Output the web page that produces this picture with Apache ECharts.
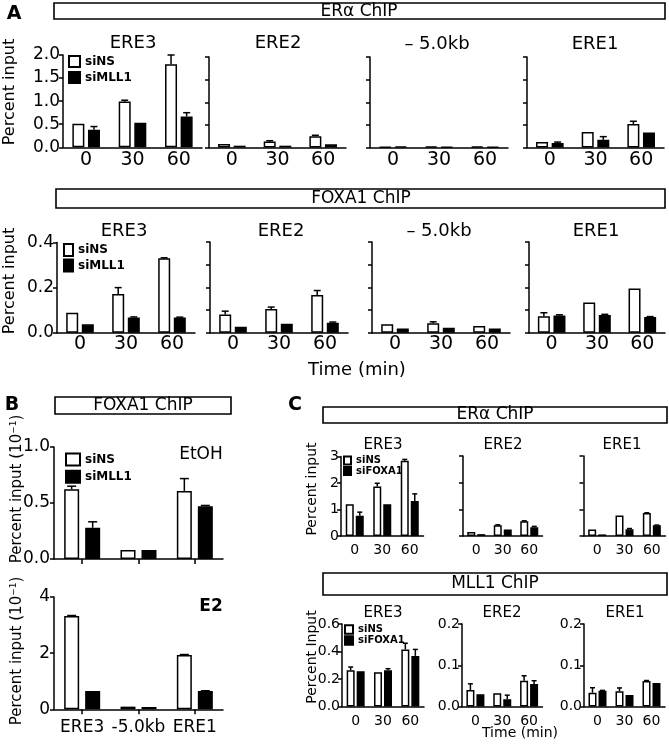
<!DOCTYPE html>
<html><head><meta charset="utf-8">
<script src="https://cdn.jsdelivr.net/npm/echarts@6/dist/echarts.min.js"></script>
<style>html,body{margin:0;padding:0;background:#fff}#c{width:669px;height:751px}</style>
</head><body><div id="c"></div>
<script>
const FONT = 'DejaVu Sans';
const timePoints = ['0', '30', '60'];
const sites = ['ERE3', '-5.0kb', 'ERE1'];

// Panel A - ERα ChIP (siNS / siMLL1)
const aEraEre3NS = [0.51, 0.99, 1.80];
const aEraEre3NSErr = [0, 0.03, 0.20];
const aEraEre3KD = [0.38, 0.53, 0.67];
const aEraEre3KDErr = [0.07, 0, 0.08];
const aEraEre2NS = [0.08, 0.13, 0.25];
const aEraEre2NSErr = [0, 0.02, 0.02];
const aEraEre2KD = [0.04, 0.04, 0.07];
const aEraEre2KDErr = [0, 0, 0];
const aEra5kbNS = [0.015, 0.02, 0.02];
const aEra5kbNSErr = [0, 0, 0];
const aEra5kbKD = [0.02, 0.015, 0.015];
const aEra5kbKDErr = [0, 0, 0];
const aEraEre1NS = [0.12, 0.34, 0.52];
const aEraEre1NSErr = [0, 0, 0.06];
const aEraEre1KD = [0.10, 0.17, 0.33];
const aEraEre1KDErr = [0.02, 0.07, 0];

// Panel A - FOXA1 ChIP (siNS / siMLL1)
const aFoxEre3NS = [0.089, 0.172, 0.33];
const aFoxEre3NSErr = [0, 0.028, 0.002];
const aFoxEre3KD = [0.037, 0.067, 0.067];
const aFoxEre3KDErr = [0, 0.003, 0.002];
const aFoxEre2NS = [0.08, 0.105, 0.166];
const aFoxEre2NSErr = [0.015, 0.008, 0.02];
const aFoxEre2KD = [0.026, 0.04, 0.044];
const aFoxEre2KDErr = [0, 0, 0.003];
const aFox5kbNS = [0.037, 0.042, 0.029];
const aFox5kbNSErr = [0, 0.006, 0];
const aFox5kbKD = [0.019, 0.022, 0.019];
const aFox5kbKDErr = [0, 0, 0];
const aFoxEre1NS = [0.072, 0.133, 0.195];
const aFoxEre1NSErr = [0.016, 0, 0];
const aFoxEre1KD = [0.076, 0.078, 0.069];
const aFoxEre1KDErr = [0.003, 0.003, 0.002];

// Panel B - FOXA1 ChIP (units of 10^-1)
const bEtohNS = [0.623, 0.08, 0.608];
const bEtohNSErr = [0.027, 0, 0.11];
const bEtohKD = [0.279, 0.08, 0.472];
const bEtohKDErr = [0.053, 0, 0.006];
const bE2NS = [3.32, 0.095, 1.93];
const bE2NSErr = [0.02, 0, 0.02];
const bE2KD = [0.65, 0.083, 0.65];
const bE2KDErr = [0, 0, 0.01];

// Panel C - ERα ChIP (siNS / siFOXA1)
const cEraEre3NS = [1.2, 1.87, 2.84];
const cEraEre3NSErr = [0, 0.12, 0.05];
const cEraEre3KD = [0.76, 1.2, 1.32];
const cEraEre3KDErr = [0.14, 0, 0.27];
const cEraEre2NS = [0.15, 0.4, 0.55];
const cEraEre2NSErr = [0, 0.02, 0.02];
const cEraEre2KD = [0.07, 0.24, 0.33];
const cEraEre2KDErr = [0, 0, 0.03];
const cEraEre1NS = [0.24, 0.77, 0.86];
const cEraEre1NSErr = [0, 0, 0.01];
const cEraEre1KD = [0.06, 0.25, 0.40];
const cEraEre1KDErr = [0, 0.03, 0.01];

// Panel C - MLL1 ChIP (siNS / siFOXA1)
const cMllEre3NS = [0.263, 0.25, 0.415];
const cMllEre3NSErr = [0.024, 0, 0.045];
const cMllEre3KD = [0.257, 0.263, 0.368];
const cMllEre3KDErr = [0, 0.012, 0.047];
const cMllEre2NS = [0.04, 0.032, 0.0625];
const cMllEre2NSErr = [0.015, 0, 0.012];
const cMllEre2KD = [0.03, 0.0175, 0.0545];
const cMllEre2KDErr = [0, 0.01, 0.008];
const cMllEre1NS = [0.0335, 0.037, 0.062];
const cMllEre1NSErr = [0.012, 0.008, 0.001];
const cMllEre1KD = [0.038, 0.028, 0.057];
const cMllEre1KDErr = [0.001, 0, 0];

// ---------- layout / style ----------
const sA = {bw: 12, gap: 0.3, cap: 7, yFont: 17, xFont: 19, xMargin: 3, yMargin: 3};
const sA2 = {bw: 12, gap: 0.3, cap: 7, yFont: 17, xFont: 19, xMargin: 2, yMargin: 3};
const sB = {bw: 15, gap: 0.4, cap: 9, yFont: 17, xFont: 17, xMargin: 10, yMargin: 4};
const sC1 = {bw: 8, gap: 0.25, cap: 5, yFont: 14, xFont: 14, xMargin: 7, yMargin: 2};
const sC2 = {bw: 8, gap: 0.25, cap: 5, yFont: 14, xFont: 14, xMargin: 8, yMargin: 2};

const panels = [
  {g: [63, 55, 139, 92.3], cats: timePoints, max: 2, step: 0.5, dec: 1, yl: true, s: sA, kd: 'siMLL1', d: [aEraEre3NS, aEraEre3NSErr, aEraEre3KD, aEraEre3KDErr]},
  {g: [209, 57, 137, 90.5], cats: timePoints, max: 2, step: 0.5, dec: 1, yl: false, s: sA, kd: 'siMLL1', d: [aEraEre2NS, aEraEre2NSErr, aEraEre2KD, aEraEre2KDErr]},
  {g: [370, 57, 138, 90.5], cats: timePoints, max: 2, step: 0.5, dec: 1, yl: false, s: sA, kd: 'siMLL1', d: [aEra5kbNS, aEra5kbNSErr, aEra5kbKD, aEra5kbKDErr]},
  {g: [527, 57, 137, 90.5], cats: timePoints, max: 2, step: 0.5, dec: 1, yl: false, s: sA, kd: 'siMLL1', d: [aEraEre1NS, aEraEre1NSErr, aEraEre1KD, aEraEre1KDErr]},
  {g: [57, 242.5, 138, 90.2], cats: timePoints, max: 0.4, step: 0.2, dec: 1, yl: true, s: sA2, kd: 'siMLL1', d: [aFoxEre3NS, aFoxEre3NSErr, aFoxEre3KD, aFoxEre3KDErr]},
  {g: [210, 242, 138, 90.7], cats: timePoints, max: 0.4, step: 0.1, dec: 1, yl: false, s: sA2, kd: 'siMLL1', d: [aFoxEre2NS, aFoxEre2NSErr, aFoxEre2KD, aFoxEre2KDErr]},
  {g: [372, 242, 138, 90.7], cats: timePoints, max: 0.4, step: 0.1, dec: 1, yl: false, s: sA2, kd: 'siMLL1', d: [aFox5kbNS, aFox5kbNSErr, aFox5kbKD, aFox5kbKDErr]},
  {g: [529, 242, 136, 90.7], cats: timePoints, max: 0.4, step: 0.1, dec: 1, yl: false, s: sA2, kd: 'siMLL1', d: [aFoxEre1NS, aFoxEre1NSErr, aFoxEre1KD, aFoxEre1KDErr]},
  {g: [54, 447, 169, 112], cats: sites, max: 1, step: 0.5, dec: 1, yl: true, xl: false, xt: true, s: sB, kd: 'siMLL1', d: [bEtohNS, bEtohNSErr, bEtohKD, bEtohKDErr]},
  {g: [54, 597, 169, 112.3], cats: sites, max: 4, step: 2, dec: 0, yl: true, xt: true, s: sB, kd: 'siMLL1', d: [bE2NS, bE2NSErr, bE2KD, bE2KDErr]},
  {g: [341, 456.5, 82.5, 79.5], cats: timePoints, max: 3, step: 1, dec: 0, yl: true, s: sC1, kd: 'siFOXA1', d: [cEraEre3NS, cEraEre3NSErr, cEraEre3KD, cEraEre3KDErr]},
  {g: [463, 456, 79.5, 80], cats: timePoints, max: 3, step: 1, dec: 0, yl: false, s: sC1, kd: 'siFOXA1', d: [cEraEre2NS, cEraEre2NSErr, cEraEre2KD, cEraEre2KDErr]},
  {g: [583.5, 456, 82, 80], cats: timePoints, max: 3, step: 1, dec: 0, yl: false, s: sC1, kd: 'siFOXA1', d: [cEraEre1NS, cEraEre1NSErr, cEraEre1KD, cEraEre1KDErr]},
  {g: [342, 624, 82, 82.5], cats: timePoints, max: 0.6, step: 0.2, dec: 1, yl: true, s: sC2, kd: 'siFOXA1', d: [cMllEre3NS, cMllEre3NSErr, cMllEre3KD, cMllEre3KDErr]},
  {g: [462, 624, 80.5, 82.5], cats: timePoints, max: 0.2, step: 0.1, dec: 1, yl: true, s: sC2, kd: 'siFOXA1', d: [cMllEre2NS, cMllEre2NSErr, cMllEre2KD, cMllEre2KDErr]},
  {g: [584, 624, 81, 82.5], cats: timePoints, max: 0.2, step: 0.1, dec: 1, yl: true, s: sC2, kd: 'siFOXA1', d: [cMllEre1NS, cMllEre1NSErr, cMllEre1KD, cMllEre1KDErr]}
];

const LS = {color: '#000', width: 1.5};
function errSeries(gi, vals, errs, offset, capW) {
  return {
    type: 'custom', xAxisIndex: gi, yAxisIndex: gi, z: 5, silent: true, name: 'err',
    data: vals.map((v, i) => [i, v, errs[i]]),
    renderItem(params, api) {
      const i = api.value(0), v = api.value(1), e = api.value(2);
      if (!e) return null;
      const p0 = api.coord([i, v]);
      const p1 = api.coord([i, v + e]);
      const x = p0[0] + offset;
      const st = {stroke: '#000', lineWidth: 1.5};
      return {type: 'group', children: [
        {type: 'line', shape: {x1: x, y1: p0[1], x2: x, y2: p1[1]}, style: st},
        {type: 'line', shape: {x1: x - capW / 2, y1: p1[1], x2: x + capW / 2, y2: p1[1]}, style: st}
      ]};
    }
  };
}

const grids = [], xAxes = [], yAxes = [], series = [];
panels.forEach((p, i) => {
  const s = p.s;
  grids.push({left: p.g[0], top: p.g[1], width: p.g[2], height: p.g[3], outerBoundsMode: 'none'});
  xAxes.push({
    type: 'category', gridIndex: i, data: p.cats, boundaryGap: true,
    axisLine: {lineStyle: LS},
    axisTick: {show: !!p.xt, alignWithLabel: true, length: 5, lineStyle: LS},
    axisLabel: {show: p.xl !== false, interval: 0, color: '#000', fontSize: s.xFont, margin: s.xMargin, fontFamily: FONT},
    splitLine: {show: false}
  });
  yAxes.push({
    type: 'value', gridIndex: i, min: 0, max: p.max, interval: p.step,
    axisLine: {show: true, lineStyle: LS},
    axisTick: {show: true, length: 4, lineStyle: LS},
    axisLabel: {show: !!p.yl, color: '#000', fontSize: s.yFont, margin: s.yMargin, fontFamily: FONT,
      formatter: v => Number(v).toFixed(p.dec)},
    splitLine: {show: false}
  });
  const off = s.bw * (1 + s.gap) / 2;
  series.push({type: 'bar', name: 'siNS', xAxisIndex: i, yAxisIndex: i, data: p.d[0],
    barWidth: s.bw, barGap: (s.gap * 100) + '%', silent: true,
    itemStyle: {color: '#fff', borderColor: '#000', borderWidth: 1.5}});
  series.push({type: 'bar', name: p.kd, xAxisIndex: i, yAxisIndex: i, data: p.d[2],
    barWidth: s.bw, barGap: (s.gap * 100) + '%', silent: true,
    itemStyle: {color: '#000', borderColor: '#000', borderWidth: 1.5}});
  series.push(errSeries(i, p.d[0], p.d[1], -off, s.cap));
  series.push(errSeries(i, p.d[2], p.d[3], off, s.cap));
});

function lg(names, left, top, w, h, gap, fs) {
  return {data: names, left, top, orient: 'vertical', itemWidth: w, itemHeight: h, itemGap: gap,
    padding: 0, icon: 'rect', selectedMode: false,
    textStyle: {fontSize: fs, fontWeight: 'bold', fontFamily: FONT, color: '#000', lineHeight: h}};
}
const legends = [
  lg(['siNS', 'siMLL1'], 68, 55, 11, 11, 3, 12),
  lg(['siNS', 'siMLL1'], 63, 243, 9, 12, 1.4, 12),
  lg(['siNS', 'siMLL1'], 65, 452.5, 14, 12, 3.3, 12),
  lg(['siNS', 'siFOXA1'], 343, 455.5, 7, 8, 0.5, 10),
  lg(['siNS', 'siFOXA1'], 344, 624.3, 8, 8.5, 0.5, 10)
];

function txt(t, x, y, fs, opts) {
  opts = opts || {};
  return {type: 'text', x, y, rotation: opts.rot || 0, silent: true,
    style: {text: t, fontSize: fs, fontFamily: FONT, fontWeight: opts.bold ? 'bold' : 'normal', fill: '#000',
      align: 'center', verticalAlign: 'middle', rich: opts.rich}};
}
function box(x, y, w, h) {
  return {type: 'rect', silent: true, shape: {x, y, width: w, height: h},
    style: {fill: 'none', stroke: '#000', lineWidth: 1.6}};
}
const R = Math.PI / 2;
const supRich = {sup: {fontSize: 9, fontFamily: FONT, verticalAlign: 'top', fill: '#000'},
                 n: {fontSize: 15, fontFamily: FONT, fill: '#000'}};
const graphics = [
  txt('A', 14, 14, 19, {bold: true}),
  txt('B', 12, 405, 19, {bold: true}),
  txt('C', 295, 405, 19, {bold: true}),
  box(54, 3, 611, 16), txt('ERα ChIP', 359, 12, 17),
  box(56, 189, 609, 19), txt('FOXA1 ChIP', 361, 199, 17),
  box(55, 397, 176, 17), txt('FOXA1 ChIP', 143, 405.5, 17),
  box(323, 407, 344, 16), txt('ERα ChIP', 495, 415, 17),
  box(323, 573, 344, 22), txt('MLL1 ChIP', 495, 584, 17),
  txt('ERE3', 133, 43, 18), txt('ERE2', 278, 43, 18), txt('– 5.0kb', 437, 44, 18), txt('ERE1', 595, 44, 18),
  txt('ERE3', 124, 231, 18), txt('ERE2', 281, 231, 18), txt('– 5.0kb', 439, 231, 18), txt('ERE1', 596, 231, 18),
  txt('Time (min)', 357, 370, 18),
  txt('Percent input', 10, 92, 16, {rot: R}),
  txt('Percent input', 10, 281, 16, {rot: R}),
  txt('{n|Percent input (10}{sup|−1}{n|)}', 17, 489, 15, {rot: R, rich: supRich}),
  txt('{n|Percent input (10}{sup|−1}{n|)}', 17, 651, 15, {rot: R, rich: supRich}),
  txt('EtOH', 201, 455, 17),
  txt('E2', 211, 607, 17, {bold: true}),
  txt('ERE3', 383, 445, 15), txt('ERE2', 503, 445, 15), txt('ERE1', 622, 445, 15),
  txt('ERE3', 383, 613, 15), txt('ERE2', 502, 613, 15), txt('ERE1', 625, 613, 15),
  txt('Percent input', 312, 489, 14, {rot: R}),
  txt('Percent Input', 312, 657, 14, {rot: R}),
  txt('Time (min)', 520, 733, 14)
];

const chart = echarts.init(document.getElementById('c'));
chart.setOption({
  animation: false,
  backgroundColor: '#fff',
  textStyle: {fontFamily: FONT},
  grid: grids, xAxis: xAxes, yAxis: yAxes,
  legend: legends,
  series: series,
  graphic: graphics
});
</script></body></html>
